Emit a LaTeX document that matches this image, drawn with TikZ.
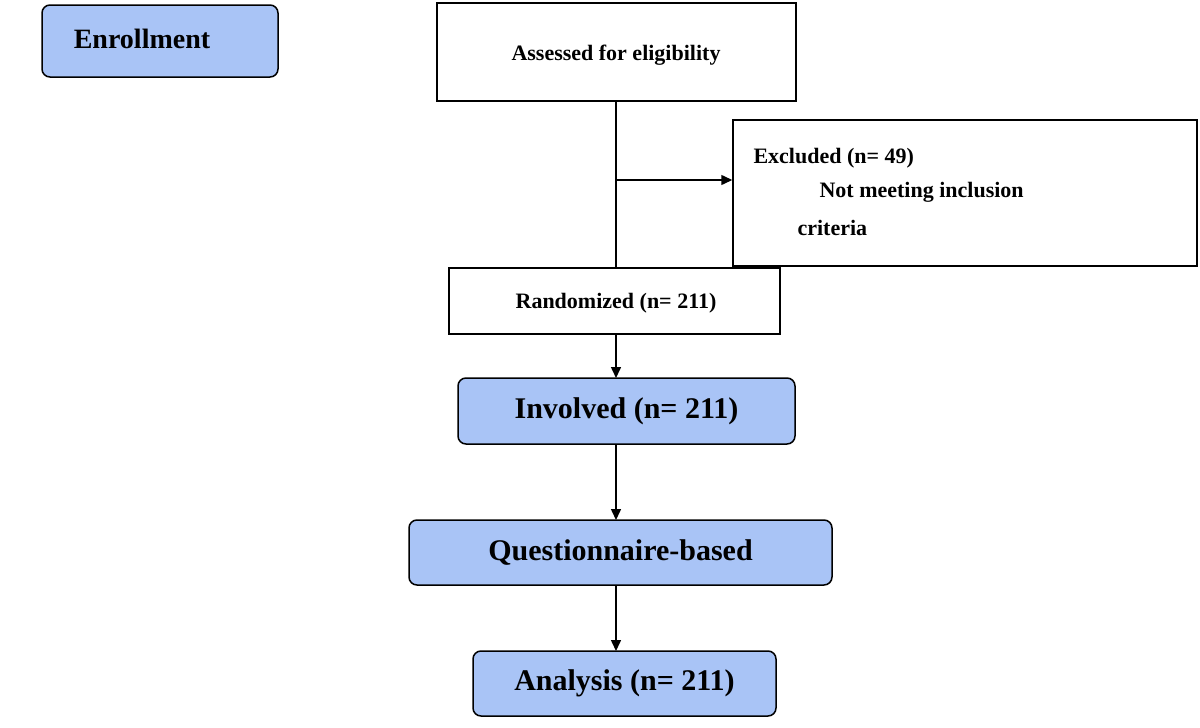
\documentclass[tikz,border=0pt]{standalone}
\usepackage{fontspec}
\setmainfont{Liberation Serif}
\usetikzlibrary{arrows.meta}
\definecolor{bl}{HTML}{A9C4F6}
\begin{document}
\begin{tikzpicture}[x=1pt,y=-1pt,
 box/.style={draw,line width=1.5pt,font=\bfseries\fontsize{22}{26}\selectfont},
 rbox/.style={draw,line width=1.5pt,fill=bl,rounded corners=8pt,font=\bfseries\fontsize{30}{34}\selectfont},
 arr/.style={line width=1.5pt,-{Triangle[length=11pt,width=10pt]}}]
\useasboundingbox (0,0) rectangle (1200,728);
\node[rbox,font=\bfseries\fontsize{28}{32}\selectfont,minimum width=236pt,minimum height=72pt] (enr) at (160,41) {};
\node[font=\bfseries\fontsize{28}{32}\selectfont] (enrt) at (142,39) {Enrollment};
\node[box,minimum width=359pt,minimum height=98pt] (ass) at (616.5,52) {};
\node[font=\bfseries\fontsize{22}{26}\selectfont] (asst) at (616,55) {Assessed for eligibility};
\node[box,minimum width=464pt,minimum height=146pt] (exc) at (965,193) {};
\node[font=\bfseries\fontsize{22}{26}\selectfont,anchor=west] (e1) at (750,158) {Excluded (n= 49)};
\node[font=\bfseries\fontsize{22}{26}\selectfont,anchor=west] (e2) at (816,192) {Not meeting inclusion};
\node[font=\bfseries\fontsize{22}{26}\selectfont,anchor=west] (e3) at (794,228) {criteria};
\node[box,minimum width=331pt,minimum height=66pt] (ran) at (614.5,301) {};
\node[font=\bfseries\fontsize{22}{26}\selectfont] (rant) at (616,303) {Randomized (n= 211)};
\node[rbox,minimum width=337pt,minimum height=66pt] (inv) at (626.5,411) {Involved (n= 211)};
\node[rbox,minimum width=423pt,minimum height=65pt] (que) at (620.5,552.5) {Questionnaire-based};
\node[rbox,minimum width=303pt,minimum height=65pt] (ana) at (624.5,683.5) {Analysis (n= 211)};
\coordinate (a1) at (616,101);
\coordinate (a2) at (616,268);
\coordinate (m) at (616,180);
\draw[line width=1.5pt] (a1) -- (a2);
\draw[arr] (m) -- (exc.west |- m);
\draw[arr] (616,334) -- (616,378);
\draw[arr] (616,444) -- (616,520);
\draw[arr] (616,585) -- (616,651);
\end{tikzpicture}
\end{document}
